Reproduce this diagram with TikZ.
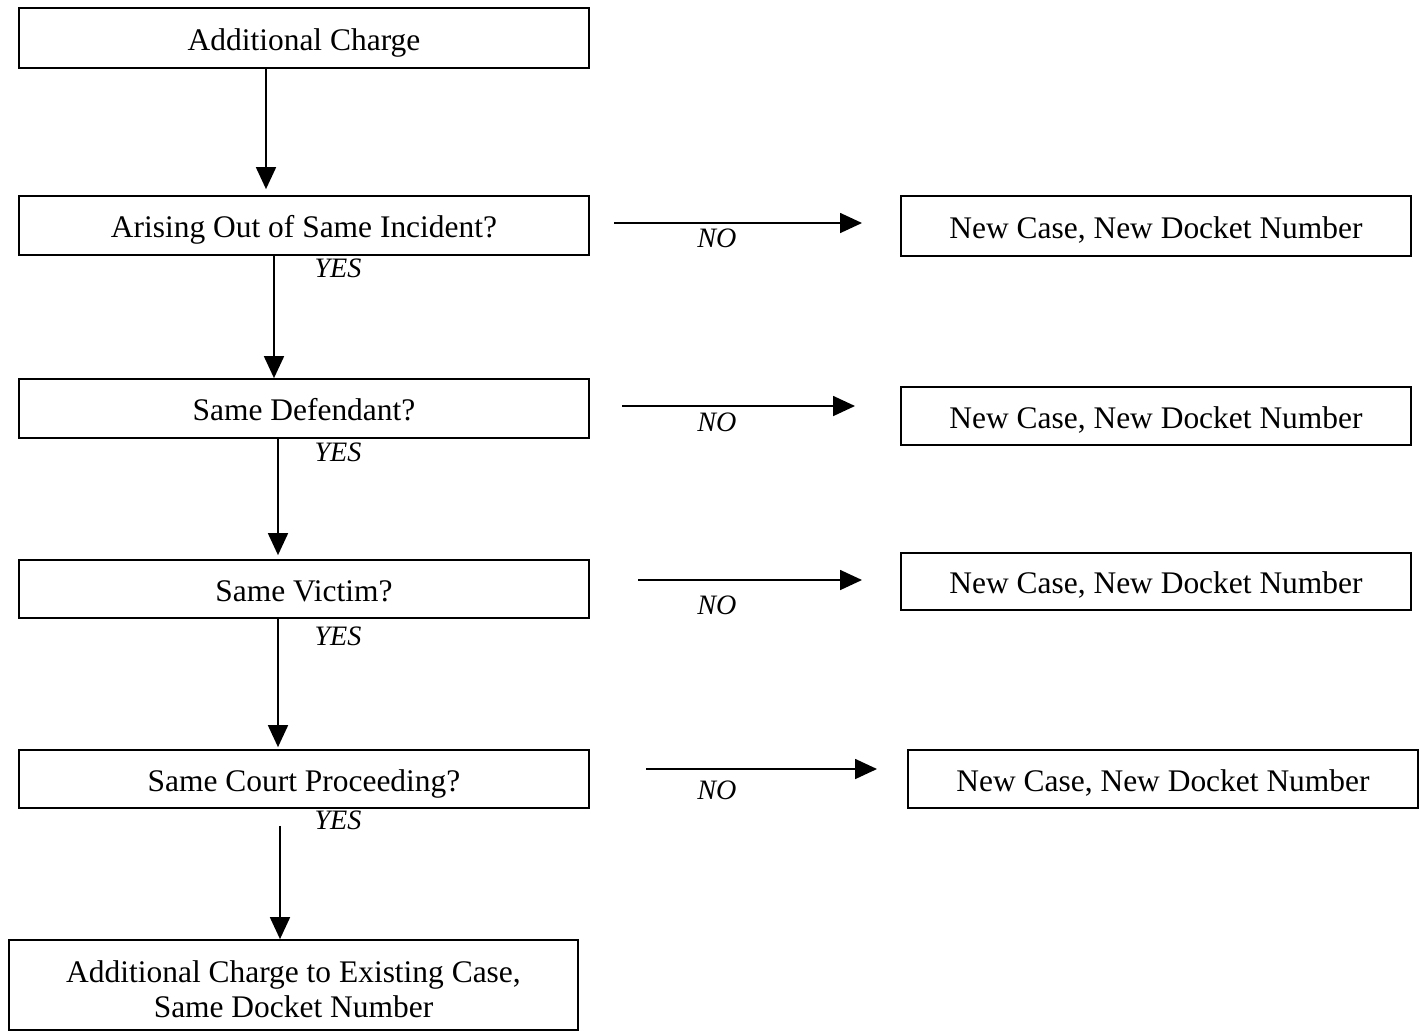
\documentclass[tikz,border=0pt]{standalone}
\usepackage{fontspec}
\setmainfont{Liberation Serif}
\usetikzlibrary{arrows.meta}
\tikzset{
  box/.style={draw, line width=1pt, rectangle, inner sep=0pt, align=center,
    font=\fontsize{17.9}{20.4}\selectfont, text height=14pt, text depth=0pt},
  box2/.style={box, text height=37.4pt, text depth=0pt},
  arr/.style={line width=1pt, -{Triangle[length=0.44cm,width=0.4cm]}},
  lbl/.style={font=\fontsize{16}{19}\selectfont\itshape, inner sep=0pt}
}
\begin{document}
\begin{tikzpicture}[x=0.02cm,y=-0.02cm]
\useasboundingbox (0,0) rectangle (1419,1032);
% left column
\node[box, minimum width=11.4cm, minimum height=1.2cm] (b1) at (304,38) {Additional Charge};
\node[box, minimum width=11.4cm, minimum height=1.18cm] (b2) at (304,225.5) {Arising Out of Same Incident?};
\node[box, minimum width=11.4cm, minimum height=1.18cm] (b3) at (304,408.5) {Same Defendant?};
\node[box, minimum width=11.4cm, minimum height=1.16cm] (b4) at (304,589) {Same Victim?};
\node[box, minimum width=11.4cm, minimum height=1.16cm] (b5) at (304,779) {Same Court Proceeding?};
\node[box2, minimum width=11.38cm, minimum height=1.8cm] (b6) at (293.5,985) {Additional Charge to Existing Case,\\Same Docket Number};
% right column
\node[box, minimum width=10.2cm, minimum height=1.2cm] (r1) at (1156,226) {New Case, New Docket Number};
\node[box, minimum width=10.2cm, minimum height=1.16cm] (r2) at (1156,416) {New Case, New Docket Number};
\node[box, minimum width=10.2cm, minimum height=1.14cm] (r3) at (1156,581.5) {New Case, New Docket Number};
\node[box, minimum width=10.2cm, minimum height=1.16cm] (r4) at (1163,779) {New Case, New Docket Number};
% vertical arrows
\draw[arr, shorten >=0.12cm] (b1.south -| 266,0) -- (b2.north -| 266,0);
\draw[arr] (b2.south -| 274,0) -- (b3.north -| 274,0);
\draw[arr, shorten >=0.08cm] (b3.south -| 278,0) -- (b4.north -| 278,0);
\draw[arr, shorten >=0.04cm] (b4.south -| 278,0) -- (b5.north -| 278,0);
\draw[arr, shorten <=0.34cm] (b5.south -| 280,0) -- (b6.north -| 280,0);
% horizontal arrow ends
\coordinate (n1s) at (614,223); \coordinate (n1e) at (862,223);
\coordinate (n2s) at (622,406); \coordinate (n2e) at (855,406);
\coordinate (n3s) at (638,580); \coordinate (n3e) at (862,580);
\coordinate (n4s) at (646,769); \coordinate (n4e) at (877,769);
\draw[arr] (n1s) -- (n1e);
\draw[arr] (n2s) -- (n2e);
\draw[arr] (n3s) -- (n3e);
\draw[arr] (n4s) -- (n4e);
% labels
\node[lbl] (y1) at (338,268) {YES};
\node[lbl] (y2) at (338,452) {YES};
\node[lbl] (y3) at (338,636) {YES};
\node[lbl] (y4) at (338,820) {YES};
\node[lbl] (no1) at (717,238) {NO};
\node[lbl] (no2) at (717,422) {NO};
\node[lbl] (no3) at (717,605) {NO};
\node[lbl] (no4) at (717,790) {NO};
\end{tikzpicture}
\end{document}
